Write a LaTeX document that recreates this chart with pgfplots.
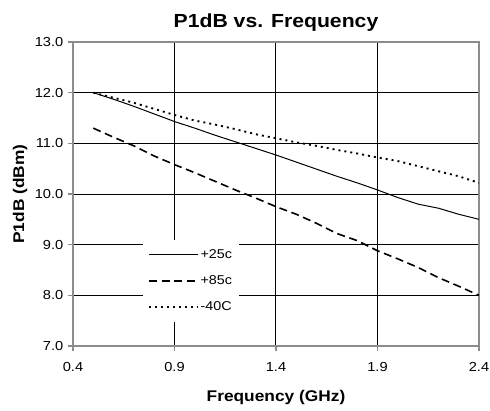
\documentclass[border=0pt]{standalone}
\usepackage{fontspec}
\setmainfont{Liberation Sans}[FakeStretch=1.12]
\usepackage{pgfplots}
\pgfplotsset{compat=1.18}
\begin{document}
\begin{tikzpicture}[x=1pt,y=1pt]
\useasboundingbox (-54.75pt,-48.75pt) rectangle (312.75pt,259.5pt);
\begin{axis}[
  at={(0,0)}, anchor=south west,
  scale only axis, width=304.5pt, height=228pt,
  xmin=0.4, xmax=2.4, ymin=7, ymax=13,
  xtick={0.4,0.9,1.4,1.9,2.4}, ytick={7,8,9,10,11,12,13},
  xticklabel style={yshift=-5pt, /pgf/number format/.cd,fixed,fixed zerofill,precision=1},
  yticklabel style={/pgf/number format/.cd,fixed,fixed zerofill,precision=1},
  /pgf/number format/assume math mode=true,
  tick label style={font=\fontsize{9.8}{11}\selectfont},
  grid=major, major grid style={black, line width=0.75pt},
  axis line style={gray!90, line width=0.9pt},
  tick style={gray!90, line width=0.9pt},
  tick align=outside, major tick length=3.75pt,
  xtick pos=bottom, ytick pos=left,
  xlabel={\textbf{Frequency (GHz)}}, ylabel={\textbf{P1dB (dBm)}},
  every axis x label/.style={at={(axis description cs:0.5,0)}, anchor=center, yshift=-38.5pt, font=\fontsize{11.6}{13}\selectfont},
  every axis y label/.style={at={(axis description cs:-0.1305,0.5)}, rotate=90, anchor=center, font=\fontsize{11.6}{13}\selectfont},
  title={\textbf{P1dB vs. Frequency}},
  every axis title/.style={at={(axis description cs:0.5,1)}, anchor=center, yshift=14.5pt, font=\fontsize{14.2}{16}\selectfont},
  legend style={at={(0.29,0.214)}, anchor=center, draw=none, fill=white,
    font=\fontsize{9.6}{11}\selectfont, row sep=7.5pt, inner xsep=4pt, inner ysep=5pt,
    nodes={inner xsep=1pt}},
  legend cell align=left,
  legend image code/.code={\draw[#1] (0pt,0pt) -- (37pt,0pt);},
]
\addplot[black, line width=0.75pt] coordinates {
(0.5,12.00)(0.6,11.87)(0.7,11.73)(0.8,11.58)(0.9,11.43)(1.0,11.30)(1.1,11.16)(1.2,11.03)(1.3,10.90)(1.4,10.77)(1.5,10.63)(1.6,10.49)(1.7,10.35)(1.8,10.22)(1.9,10.08)(2.0,9.93)(2.1,9.80)(2.2,9.72)(2.3,9.60)(2.4,9.50)};
\addlegendentry{+25c}
\addplot[black, line width=1.2pt, dash pattern=on 6pt off 3.5pt] coordinates {
(0.5,11.30)(0.6,11.12)(0.7,10.95)(0.8,10.75)(0.9,10.58)(1.0,10.42)(1.1,10.25)(1.2,10.08)(1.3,9.92)(1.4,9.75)(1.5,9.60)(1.6,9.42)(1.7,9.22)(1.8,9.08)(1.9,8.88)(2.0,8.72)(2.1,8.55)(2.2,8.35)(2.3,8.18)(2.4,8.00)};
\addlegendentry{+85c}
\addplot[black, line width=1.4pt, dash pattern=on 1.5pt off 3pt] coordinates {
(0.5,12.00)(0.6,11.90)(0.7,11.80)(0.8,11.68)(0.9,11.56)(1.0,11.45)(1.1,11.37)(1.2,11.28)(1.3,11.18)(1.4,11.10)(1.5,11.02)(1.6,10.95)(1.7,10.87)(1.8,10.80)(1.9,10.72)(2.0,10.65)(2.1,10.55)(2.2,10.45)(2.3,10.35)(2.4,10.22)};
\addlegendentry{-40C}
\end{axis}
\end{tikzpicture}
\end{document}
